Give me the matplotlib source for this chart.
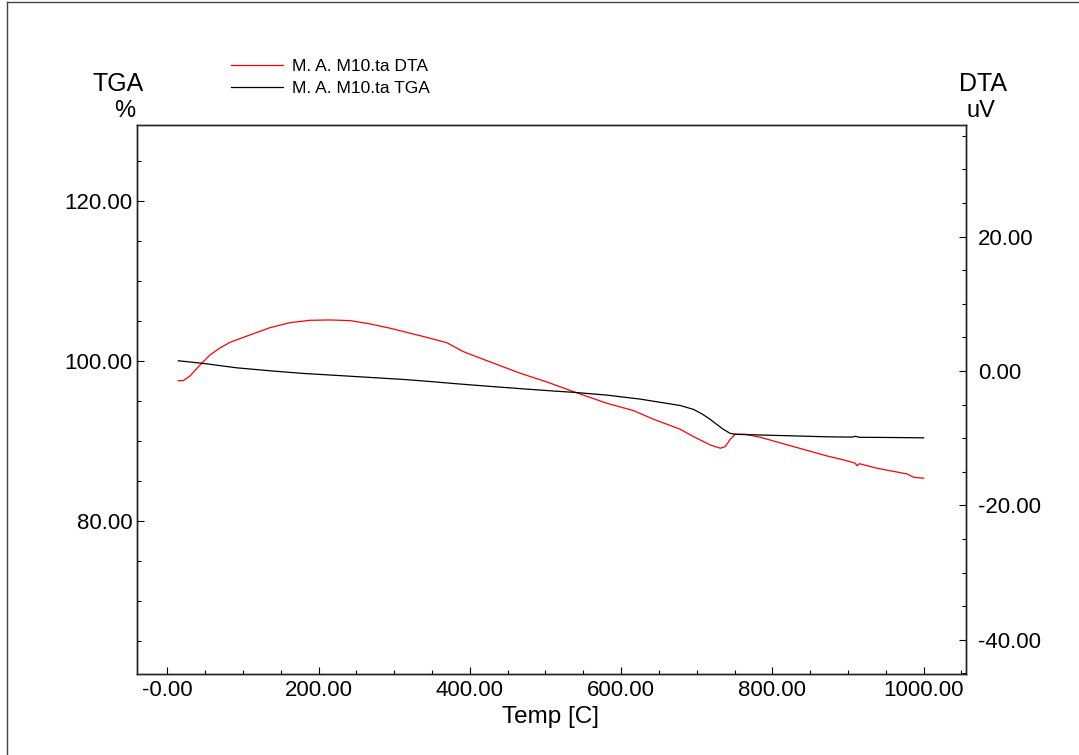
import numpy as np
import matplotlib
matplotlib.use("Agg")
import matplotlib.pyplot as plt
from matplotlib.ticker import MultipleLocator, FixedLocator, FixedFormatter
from matplotlib.lines import Line2D
from matplotlib.transforms import Bbox, TransformedBbox

plt.rcParams['font.family'] = ['Liberation Sans', 'DejaVu Sans']

# TGA curve (left axis, %)
tga_temp = [14.6, 47.6, 91.8, 135.8, 179.5, 224.1, 268.1, 311.8, 347.5, 378.3,
            422.5, 466.5, 510.6, 537.0, 581.2, 625.3, 651.7, 678.2, 695.8, 707.0,
            717.9, 727.0, 735.4, 744.3, 752.0, 761.9, 806.1, 872.2, 905.0, 910.0,
            915.0, 960.3, 1000.0]
tga_pct = [100.04, 99.71, 99.16, 98.79, 98.46, 98.21, 97.96, 97.71, 97.45, 97.2,
           96.87, 96.56, 96.26, 96.1, 95.75, 95.25, 94.85, 94.45, 93.96, 93.4,
           92.71, 92.05, 91.46, 90.96, 90.85, 90.82, 90.71, 90.54, 90.5, 90.6,
           90.48, 90.45, 90.41]

# DTA curve (right axis, uV)
dta_temp = [14.6, 21.2, 30.0, 43.3, 56.5, 69.7, 82.9, 109.4, 135.8, 162.3,
            188.8, 215.2, 241.7, 268.1, 294.6, 321.0, 343.0, 369.6, 391.5, 422.5,
            466.5, 501.9, 537.0, 581.2, 616.4, 642.9, 678.2, 695.8, 717.9, 731.2,
            737.7, 744.3, 750.9, 764.2, 784.0, 828.0, 872.2, 894.2, 909.0, 912.0,
            915.0, 938.4, 978.0, 986.8, 1000.0]
dta_uv = [-1.44, -1.44, -0.74, 0.89, 2.38, 3.42, 4.26, 5.36, 6.44, 7.19,
          7.54, 7.59, 7.49, 7.0, 6.36, 5.62, 5.0, 4.2, 2.87, 1.53,
          -0.34, -1.64, -3.08, -4.81, -5.9, -7.19, -8.68, -9.78, -11.01, -11.5,
          -11.26, -10.17, -9.42, -9.42, -9.87, -11.26, -12.65, -13.24, -13.7, -14.1,
          -13.8, -14.48, -15.33, -15.82, -15.97]

x_ticks = [0, 200, 400, 600, 800, 1000]
x_labels = ["-0.00", "200.00", "400.00", "600.00", "800.00", "1000.00"]
left_ticks = [80, 100, 120]
left_labels = ["80.00", "100.00", "120.00"]
right_ticks = [-40, -20, 0, 20]
right_labels = ["-40.00", "-20.00", "0.00", "20.00"]
legend_labels = ["M. A. M10.ta DTA", "M. A. M10.ta TGA"]
colors = ["#ff0000", "#000000"]

fig = plt.figure(figsize=(10.79, 7.55), dpi=100)
ax = fig.add_axes([0.127, 0.1073, 0.7683, 0.7271])
ax2 = ax.twinx()

ax.plot(tga_temp, tga_pct, color=colors[1], lw=0.9)
ax2.plot(dta_temp, dta_uv, color=colors[0], lw=0.9)
ax2.set_zorder(ax.get_zorder() - 1)
ax.patch.set_visible(False)

ax.set_xlim(-40, 1056)
ax.set_ylim(60.9, 129.5)
ax2.set_ylim(-45.1, 36.6)

ax.xaxis.set_major_locator(FixedLocator(x_ticks))
ax.xaxis.set_major_formatter(FixedFormatter(x_labels))
ax.xaxis.set_minor_locator(MultipleLocator(50))
ax.yaxis.set_major_locator(FixedLocator(left_ticks))
ax.yaxis.set_major_formatter(FixedFormatter(left_labels))
ax.yaxis.set_minor_locator(MultipleLocator(5))
ax2.yaxis.set_major_locator(FixedLocator(right_ticks))
ax2.yaxis.set_major_formatter(FixedFormatter(right_labels))
ax2.yaxis.set_minor_locator(MultipleLocator(5))

ax.tick_params(axis='x', which='both', direction='in', labelsize=16, pad=4, top=False)
ax.tick_params(axis='y', which='both', direction='in', labelsize=16, pad=3.5, right=False)
ax2.tick_params(axis='y', which='both', direction='in', labelsize=16, pad=8.5)
for a in (ax, ax2):
    a.tick_params(which='major', length=5, width=0.8)
    a.tick_params(which='minor', length=3, width=0.8)
    for s in a.spines.values():
        s.set_linewidth(1.0)
        s.set_color('#222222')

fig.text(0.5106, 0.0503, "Temp [C]", fontsize=17.5, ha='center', va='center')


def clipped(x, y, s, clip_right, **kw):
    t = fig.text(x, y, s, fontsize=18, **kw)
    t.set_clip_box(TransformedBbox(Bbox([[0, 0], [clip_right, 1]]), fig.transFigure))
    t.set_clip_on(True)
    return t


clipped(0.0859, 0.880, "TGA", 143 / 1079, ha='left', va='baseline')
fig.text(0.1158, 0.845, "%", fontsize=17, ha='center', va='baseline')
clipped(0.889, 0.880, "DTA", 1008 / 1079, ha='left', va='baseline')
fig.text(0.909, 0.845, "uV", fontsize=17, ha='center', va='baseline')

# legend drawn by hand to sit above the axes
for i, (lab, c) in enumerate(zip(legend_labels, colors)):
    yy = 1 - (64.5 + 22.5 * i) / 755
    fig.add_artist(Line2D([231 / 1079, 283 / 1079], [yy, yy], color=c, lw=0.9,
                          transform=fig.transFigure))
    fig.text(292 / 1079, yy - 0.002, lab, fontsize=12.5, ha='left', va='center')

# page frame (top and left edges)
fig.add_artist(Line2D([7 / 1079, 7 / 1079], [0, 1 - 1.5 / 755], color='#444444', lw=1.0,
                      transform=fig.transFigure))
fig.add_artist(Line2D([7 / 1079, 1], [1 - 1.5 / 755, 1 - 1.5 / 755], color='#444444', lw=1.0,
                      transform=fig.transFigure))

fig.savefig("out.png", dpi=100)
